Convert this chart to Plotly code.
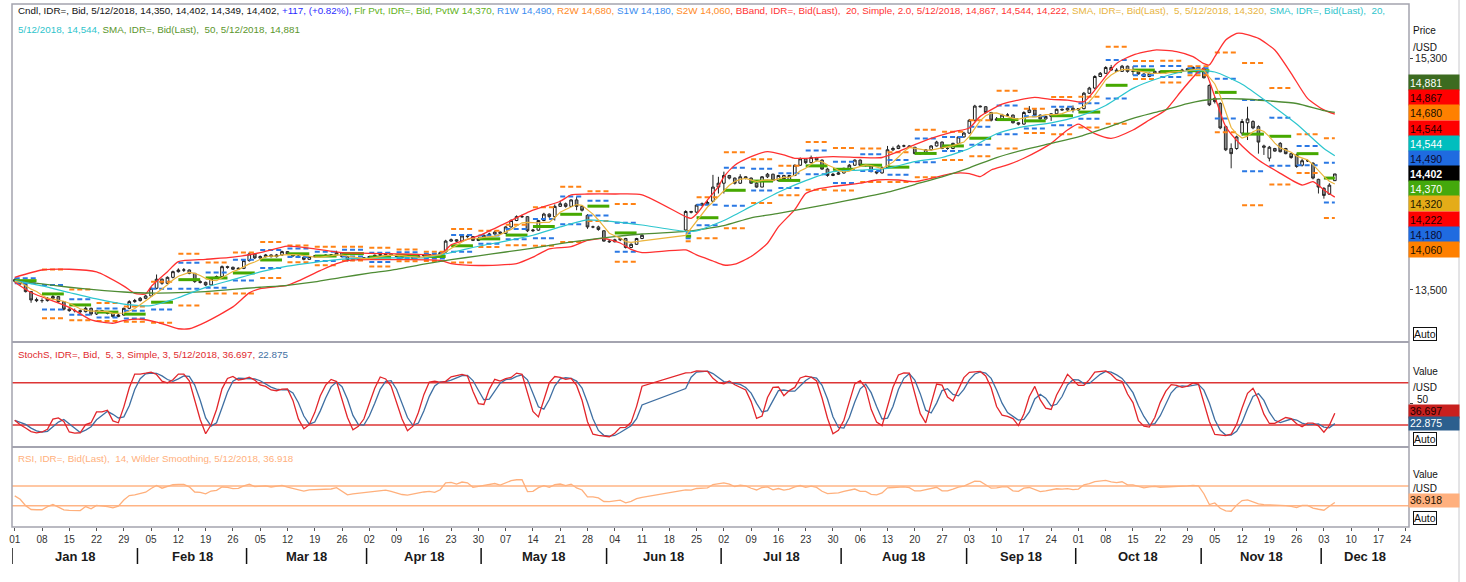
import numpy as np
import pandas as pd
import plotly.graph_objects as go

FONT = "Liberation Sans, Arial, sans-serif"

# ---------------- data ----------------
DAYS = pd.bdate_range("2018-01-01", "2018-12-05")  # weekday calendar of the chart

OPEN = [
    13580, 13568, 13545, 13487, 13425,
    13417, 13417, 13435, 13448, 13409,
    13350, 13339, 13339, 13331, 13357,
    13313, 13339, 13329, 13318, 13293,
    13305, 13357, 13409, 13417, 13435,
    13453, 13513, 13583, 13552, 13598,
    13642, 13655, 13655, 13629, 13565,
    13559, 13539, 13591, 13604, 13681,
    13676, 13661, 13668, 13728, 13780,
    13749, 13759, 13772, 13759, 13772,
    13798, 13780, 13764, 13754, 13738,
    13759, 13764, 13764, 13770, 13772,
    13790, 13759, 13728, 13738, 13745,
    13750, 13760, 13770, 13775, 13780,
    13772, 13760, 13750, 13745, 13755,
    13765, 13770, 13775, 13770, 13795,
    13880, 13890, 13880, 13920, 13915,
    13885, 13900, 13925, 13935, 13950,
    13940, 13990, 14040, 14070, 14070,
    13960, 13965, 14040, 14090, 14070,
    14150, 14170, 14150, 14200, 14150,
    14080, 13990, 13990, 13960, 13880,
    13875, 13890, 13900, 13830, 13855,
    13900, None, None, None, None,
    None, None, None, 13966, 14110,
    14105, 14160, 14170, 14190, 14300,
    14330, 14390, 14370, 14330, 14380,
    14370, 14330, 14300, 14380, 14400,
    14350, 14390, 14360, 14390, 14470,
    14520, 14490, 14530, 14510, 14440,
    14390, 14400, 14410, 14446, 14470,
    14510, 14470, 14470, 14420, 14410,
    14450, 14590, 14600, 14620, 14620,
    14610, 14560, 14560, 14590, 14620,
    14650, 14600, 14600, 14640, 14690,
    14720, 14820, 14930, 14925, 14880,
    14820, 14830, 14860, 14860, 14800,
    14790, 14880, 14900, 14860, 14830,
    14850, 14870, 14905, 14900, 14913,
    14900, 14910, 15030, 15070, 15160,
    15185, 15230, 15210, 15200, 15240,
    15200, 15200, 15180, 15160, 15185,
    15200, 15190, 15195, 15200, 15200,
    15210, 15220, 15230, 15225, 15090,
    14990, 14950, 14770, 14600, 14600,
    14720, 14800, 14810, 14770, 14620,
    14525, 14600, 14640, 14600, 14560,
    14550, 14470, 14505, 14485, 14360,
    14290, 14245, 14350,
]
HIGH = [
    13590, 13575, 13550, 13492, 13440,
    13435, 13445, 13460, 13452, 13412,
    13360, 13355, 13348, 13370, 13362,
    13345, 13345, 13335, 13322, 13315,
    13362, 13420, 13430, 13445, 13460,
    13520, 13620, 13590, 13605, 13650,
    13668, 13670, 13660, 13632, 13575,
    13565, 13598, 13612, 13690, 13688,
    13682, 13675, 13735, 13795, 13785,
    13768, 13780, 13778, 13780, 13805,
    13802, 13785, 13770, 13760, 13762,
    13770, 13772, 13776, 13778, 13805,
    13795, 13762, 13745, 13750, 13755,
    13765, 13775, 13782, 13790, 13784,
    13776, 13764, 13755, 13760, 13770,
    13775, 13780, 13780, 13800, 13890,
    13900, 13895, 13925, 13935, 13918,
    13910, 13932, 13945, 13960, 13955,
    13995, 14050, 14080, 14085, 14075,
    13975, 14045, 14100, 14095, 14165,
    14195, 14180, 14205, 14225, 14155,
    14090, 14000, 14000, 13965, 13890,
    13898, 13905, 13905, 13862, 13905,
    13935, None, None, None, None,
    None, None, None, 14120, 14115,
    14165, 14180, 14195, 14395, 14380,
    14420, 14395, 14375, 14400, 14385,
    14375, 14340, 14385, 14410, 14405,
    14395, 14395, 14395, 14475, 14530,
    14525, 14545, 14535, 14515, 14450,
    14410, 14420, 14450, 14480, 14515,
    14515, 14480, 14475, 14425, 14460,
    14620, 14615, 14630, 14630, 14625,
    14612, 14570, 14595, 14625, 14660,
    14655, 14610, 14645, 14695, 14730,
    14830, 14940, 14935, 14930, 14885,
    14845, 14870, 14875, 14865, 14805,
    14890, 14930, 14905, 14865, 14855,
    14875, 14910, 14912, 14920, 14935,
    14915, 15040, 15080, 15170, 15195,
    15240, 15250, 15225, 15250, 15245,
    15240, 15205, 15185, 15190, 15205,
    15205, 15200, 15210, 15205, 15220,
    15225, 15240, 15235, 15230, 15100,
    15000, 14960, 14780, 14640, 14700,
    14830, 14925, 14820, 14780, 14630,
    14620, 14605, 14650, 14605, 14565,
    14560, 14520, 14515, 14495, 14365,
    14300, 14330, 14402,
]
LOW = [
    13560, 13540, 13480, 13400, 13405,
    13400, 13410, 13425, 13400, 13340,
    13330, 13325, 13318, 13325, 13300,
    13305, 13320, 13310, 13285, 13288,
    13300, 13350, 13400, 13410, 13428,
    13448, 13505, 13540, 13545, 13590,
    13635, 13640, 13622, 13555, 13550,
    13530, 13535, 13585, 13600, 13665,
    13655, 13655, 13662, 13720, 13740,
    13740, 13752, 13752, 13752, 13765,
    13775, 13758, 13748, 13730, 13735,
    13752, 13755, 13758, 13764, 13768,
    13752, 13722, 13725, 13732, 13740,
    13745, 13755, 13765, 13770, 13768,
    13755, 13745, 13740, 13742, 13750,
    13760, 13765, 13762, 13765, 13790,
    13875, 13872, 13878, 13905, 13880,
    13880, 13895, 13918, 13930, 13935,
    13935, 13985, 14035, 14060, 13950,
    13950, 13960, 14035, 14060, 14040,
    14145, 14140, 14145, 14120, 14110,
    13975, 13980, 13960, 13875, 13865,
    13870, 13880, 13822, 13825, 13850,
    13895, None, None, None, None,
    None, None, None, 13960, 14095,
    14100, 14150, 14160, 14185, 14250,
    14250, 14360, 14320, 14325, 14360,
    14325, 14295, 14300, 14370, 14345,
    14345, 14355, 14355, 14385, 14465,
    14480, 14485, 14500, 14435, 14380,
    14385, 14395, 14405, 14440, 14465,
    14465, 14460, 14415, 14400, 14405,
    14445, 14580, 14595, 14610, 14605,
    14555, 14550, 14555, 14585, 14615,
    14595, 14590, 14595, 14635, 14685,
    14715, 14810, 14920, 14870, 14810,
    14815, 14825, 14850, 14795, 14780,
    14785, 14875, 14855, 14825, 14825,
    14815, 14865, 14895, 14895, 14880,
    14895, 14905, 15025, 15060, 15155,
    15180, 15205, 15195, 15195, 15190,
    15170, 15175, 15155, 15155, 15180,
    15185, 15185, 15190, 15195, 15195,
    15205, 15215, 15215, 15145, 14930,
    14950, 14750, 14580, 14446, 14590,
    14700, 14666, 14750, 14560, 14550,
    14500, 14575, 14570, 14555, 14520,
    14450, 14460, 14495, 14360, 14250,
    14210, 14240, 14349,
]
CLOSE = [
    13568, 13547, 13487, 13422, 13417,
    13417, 13435, 13448, 13409, 13350,
    13339, 13339, 13331, 13357, 13313,
    13339, 13329, 13318, 13293, 13305,
    13357, 13409, 13417, 13435, 13453,
    13513, 13583, 13552, 13598, 13642,
    13655, 13655, 13629, 13565, 13559,
    13539, 13591, 13604, 13681, 13676,
    13661, 13668, 13728, 13780, 13749,
    13759, 13772, 13759, 13772, 13798,
    13780, 13764, 13754, 13738, 13759,
    13764, 13764, 13770, 13772, 13790,
    13759, 13728, 13738, 13745, 13750,
    13760, 13770, 13775, 13780, 13772,
    13760, 13750, 13745, 13755, 13765,
    13770, 13775, 13770, 13790, 13880,
    13890, 13880, 13920, 13915, 13885,
    13900, 13925, 13935, 13950, 13940,
    13990, 14040, 14070, 14070, 13960,
    13965, 14040, 14090, 14070, 14150,
    14170, 14150, 14200, 14150, 14120,
    13990, 13990, 13970, 13880, 13875,
    13890, 13900, 13830, 13855, 13900,
    13925, None, None, None, None,
    None, None, None, 14110, 14105,
    14160, 14170, 14180, 14300, 14330,
    14390, 14370, 14330, 14380, 14370,
    14330, 14300, 14380, 14400, 14350,
    14390, 14360, 14390, 14470, 14520,
    14490, 14530, 14510, 14440, 14390,
    14400, 14410, 14446, 14470, 14510,
    14470, 14470, 14420, 14410, 14450,
    14590, 14600, 14620, 14620, 14610,
    14560, 14560, 14590, 14620, 14650,
    14600, 14600, 14640, 14690, 14720,
    14820, 14930, 14925, 14880, 14820,
    14830, 14860, 14860, 14800, 14790,
    14880, 14900, 14860, 14830, 14850,
    14870, 14905, 14900, 14913, 14900,
    14910, 15030, 15070, 15160, 15185,
    15230, 15210, 15200, 15240, 15200,
    15200, 15180, 15160, 15185, 15200,
    15190, 15195, 15200, 15200, 15210,
    15220, 15230, 15225, 15150, 14940,
    14965, 14760, 14590, 14560, 14690,
    14810, 14830, 14760, 14650, 14610,
    14610, 14580, 14575, 14560, 14530,
    14460, 14505, 14505, 14370, 14300,
    14235, 14315, 14402,
]

# weekly floor pivot of the first week (P, R1, S1)
PIVOT_WEEK0 = [13572, 13591, 13552]
# Wilder average gain / loss carried in from before January (sets the RSI start level)
RSI_PRIOR_AVG = [5.0, 5.0]

# SMA 20 / SMA 50 read at weekly points
SMA_DATES = [
    "2018-01-01", "2018-01-08", "2018-01-15", "2018-01-22", "2018-01-29",
    "2018-02-05", "2018-02-12", "2018-02-19", "2018-02-26", "2018-03-05",
    "2018-03-12", "2018-03-19", "2018-03-26", "2018-04-02", "2018-04-09",
    "2018-04-16", "2018-04-23", "2018-04-30", "2018-05-07", "2018-05-14",
    "2018-05-21", "2018-05-28", "2018-06-04", "2018-06-11", "2018-06-21",
    "2018-06-25", "2018-07-02", "2018-07-09", "2018-07-16", "2018-07-23",
    "2018-07-30", "2018-08-06", "2018-08-13", "2018-08-20", "2018-08-27",
    "2018-09-03", "2018-09-10", "2018-09-17", "2018-09-24", "2018-10-01",
    "2018-10-08", "2018-10-15", "2018-10-22", "2018-10-29", "2018-11-05",
    "2018-11-12", "2018-11-19", "2018-11-26", "2018-12-03", "2018-12-05",
]
SMA20 = [
    13572, 13531, 13480, 13430, 13390, 13378, 13440, 13520, 13580, 13640,
    13685, 13715, 13740, 13748, 13750, 13750, 13790, 13840, 13880, 13925,
    13990, 14045, 14030, 14005, 13955, 13959, 14040, 14150, 14260, 14350,
    14420, 14432, 14446, 14498, 14530, 14600, 14715, 14770, 14800, 14850,
    14935, 15068, 15150, 15205, 15195, 15100, 14950, 14790, 14600, 14544,
]
SMA50 = [
    13572, 13547, 13521, 13500, 13484, 13476, 13479, 13487, 13505, 13521,
    13536, 13562, 13598, 13630, 13660, 13700, 13735, 13765, 13795, 13825,
    13860, 13890, 13915, 13935, 13955, 13966, 14000, 14060, 14095, 14135,
    14174, 14215, 14260, 14320, 14380, 14450, 14530, 14590, 14640, 14690,
    14760, 14835, 14890, 14950, 14985, 14985, 14970, 14950, 14895, 14881,
]

# Bollinger band (20, 2.0) envelopes
BBU_DATES = [
    "2018-01-01", "2018-01-08", "2018-01-15", "2018-01-22", "2018-01-29", "2018-01-31",
    "2018-02-02", "2018-02-05", "2018-02-08", "2018-02-12", "2018-02-19", "2018-02-26",
    "2018-03-05", "2018-03-12", "2018-03-19", "2018-03-26", "2018-04-02", "2018-04-09",
    "2018-04-16", "2018-04-19", "2018-04-23", "2018-04-30", "2018-05-07", "2018-05-14",
    "2018-05-21", "2018-05-23", "2018-05-28", "2018-06-04", "2018-06-11", "2018-06-21",
    "2018-06-22", "2018-06-25", "2018-06-27", "2018-06-29", "2018-07-02", "2018-07-04",
    "2018-07-09", "2018-07-12", "2018-07-17", "2018-07-19", "2018-07-23", "2018-07-30",
    "2018-08-06", "2018-08-10", "2018-08-15", "2018-08-20", "2018-08-23", "2018-08-29",
    "2018-09-03", "2018-09-05", "2018-09-11", "2018-09-14", "2018-09-19", "2018-09-24",
    "2018-09-27", "2018-10-02", "2018-10-05", "2018-10-10", "2018-10-15", "2018-10-19",
    "2018-10-25", "2018-10-30", "2018-11-01", "2018-11-02", "2018-11-05", "2018-11-07",
    "2018-11-09", "2018-11-12", "2018-11-15", "2018-11-20", "2018-11-23", "2018-11-28",
    "2018-12-03", "2018-12-05",
]
BBU = [
    13598, 13655, 13661, 13640, 13530, 13474,
    13469, 13526, 13642, 13720, 13738, 13755,
    13790, 13840, 13820, 13790, 13785, 13780,
    13775, 13772, 13850, 13920, 14020, 14120,
    14190, 14239, 14246, 14246, 14240, 14070,
    14057, 14090, 14200, 14304, 14380, 14470,
    14537, 14576, 14550, 14524, 14524, 14537,
    14530, 14530, 14576, 14630, 14679, 14730,
    14760, 14850, 14945, 14977, 14998, 14982,
    14977, 14964, 15107, 15262, 15327, 15366,
    15353, 15314, 15260, 15250, 15314, 15444,
    15496, 15496, 15457, 15366, 15185, 14990,
    14900, 14867,
]
BBL_DATES = [
    "2018-01-01", "2018-01-04", "2018-01-15", "2018-01-19", "2018-01-25", "2018-01-29",
    "2018-02-01", "2018-02-06", "2018-02-12", "2018-02-14", "2018-02-19", "2018-02-26",
    "2018-03-01", "2018-03-05", "2018-03-08", "2018-03-12", "2018-03-14", "2018-03-20",
    "2018-03-23", "2018-03-28", "2018-04-05", "2018-04-19", "2018-04-23", "2018-04-30",
    "2018-05-09", "2018-05-14", "2018-05-17", "2018-05-23", "2018-05-28", "2018-05-31",
    "2018-06-05", "2018-06-07", "2018-06-11", "2018-06-21", "2018-06-25", "2018-06-28",
    "2018-07-02", "2018-07-04", "2018-07-09", "2018-07-12", "2018-07-16", "2018-07-19",
    "2018-07-23", "2018-07-25", "2018-07-30", "2018-08-06", "2018-08-09", "2018-08-15",
    "2018-08-20", "2018-08-23", "2018-08-29", "2018-09-03", "2018-09-05", "2018-09-07",
    "2018-09-12", "2018-09-17", "2018-09-20", "2018-09-24", "2018-09-27", "2018-10-01",
    "2018-10-04", "2018-10-09", "2018-10-15", "2018-10-18", "2018-10-23", "2018-10-26",
    "2018-10-31", "2018-11-01", "2018-11-05", "2018-11-07", "2018-11-12", "2018-11-15",
    "2018-11-21", "2018-11-27", "2018-11-29", "2018-12-03", "2018-12-05",
]
BBL = [
    13560, 13480, 13365, 13267, 13241, 13262,
    13272, 13250, 13198, 13198, 13250, 13368,
    13477, 13510, 13525, 13535, 13570, 13650,
    13705, 13733, 13735, 13730, 13705, 13690,
    13705, 13755, 13820, 13837, 13885, 13900,
    13865, 13815, 13790, 13811, 13772, 13725,
    13694, 13700, 13760, 13863, 13990, 14125,
    14250, 14283, 14305, 14330, 14355, 14355,
    14342, 14368, 14407, 14405, 14381, 14433,
    14472, 14524, 14589, 14640, 14744, 14790,
    14715, 14679, 14744, 14822, 14900, 15055,
    15198, 15220, 15003, 14770, 14620, 14511,
    14407, 14316, 14342, 14278, 14222,
]

TICK_LABELS = [
    "01", "08", "15", "22", "29", "05", "12", "19", "26", "05", "12", "19", "26",
    "02", "09", "16", "23", "30", "07", "14", "21", "28", "04", "11", "18", "25",
    "02", "09", "16", "23", "30", "06", "13", "20", "27", "03", "10", "17", "24",
    "01", "08", "15", "22", "29", "05", "12", "19", "26", "03", "10", "17", "24",
]
MONTHS = ["Jan 18", "Feb 18", "Mar 18", "Apr 18", "May 18", "Jun 18",
          "Jul 18", "Aug 18", "Sep 18", "Oct 18", "Nov 18", "Dec 18"]
MONTH_FIRST_DAYS = ["2018-01-01", "2018-02-01", "2018-03-01", "2018-04-02", "2018-05-01",
                    "2018-06-01", "2018-07-02", "2018-08-01", "2018-09-03", "2018-10-01",
                    "2018-11-01", "2018-12-03"]

PRICE_TAGS = ["14,881", "14,867", "14,680", "14,544", "14,544", "14,490",
              "14,402", "14,370", "14,320", "14,222", "14,180", "14,060"]
PRICE_TAG_BG = ["#3C6B20", "#FF0000", "#FF8000", "#FF0000", "#00BEBE", "#1F6BE0",
                "#000000", "#44A80C", "#E4AC18", "#FF0000", "#1F6BE0", "#FF8000"]
PRICE_TAG_FG = ["#FFFFFF", "#200000", "#201000", "#200000", "#FFFFFF", "#0A0A30",
                "#FFFFFF", "#FFFFFF", "#201800", "#200000", "#0A0A30", "#201000"]
STOCH_TAGS = ["36.697", "22.875"]
RSI_TAG = "36.918"

# ---------------- calculations ----------------
day_index = {d.strftime("%Y-%m-%d"): k for k, d in enumerate(DAYS)}
df = pd.DataFrame({"o": OPEN, "h": HIGH, "l": LOW, "c": CLOSE}, dtype=float)
df["x"] = np.arange(len(df))
d = df.dropna().copy()

d["sma5"] = d["c"].rolling(5, min_periods=1).mean()
ll = d["l"].rolling(5, min_periods=1).min()
hh = d["h"].rolling(5, min_periods=1).max()
fast_k = 100 * (d["c"] - ll) / (hh - ll)
d["k"] = fast_k.rolling(3, min_periods=1).mean()
d["dline"] = d["k"].rolling(3, min_periods=1).mean()

# RSI 14, Wilder smoothing
ag, al = RSI_PRIOR_AVG
rsi_vals = []
prev_c = None
for c in d["c"]:
    if prev_c is not None:
        ch = c - prev_c
        ag = (ag * 13 + max(ch, 0)) / 14
        al = (al * 13 + max(-ch, 0)) / 14
    rsi_vals.append(100 - 100 / (1 + ag / al) if al > 0 else 100)
    prev_c = c
d["rsi"] = rsi_vals

# weekly floor pivots from previous week's H/L/C
d["w"] = d["x"] // 5
wk = d.groupby("w").agg(h=("h", "max"), l=("l", "min"), c=("c", "last"),
                        x0=("x", "min"), x1=("x", "max"))
piv = {k: ([], []) for k in ["P", "R1", "S1", "R2", "S2"]}
prev = None
for w, row in wk.iterrows():
    if prev is None:
        lv = {"P": PIVOT_WEEK0[0], "R1": PIVOT_WEEK0[1], "S1": PIVOT_WEEK0[2]}
    else:
        P = (prev["h"] + prev["l"] + prev["c"]) / 3
        lv = {"P": P, "R1": 2 * P - prev["l"], "S1": 2 * P - prev["h"],
              "R2": P + (prev["h"] - prev["l"]), "S2": P - (prev["h"] - prev["l"])}
    for k, v in lv.items():
        piv[k][0].extend([row["x0"], row["x1"], None])
        piv[k][1].extend([v, v, None])
    prev = row


def xs(dates):
    return [day_index[s] for s in dates]


# ---------------- figure ----------------
fig = go.Figure()

for k, col, wd, dash in [("R2", "#FF8214", 2, "5px,3px"), ("S2", "#FF8214", 2, "5px,3px"),
                         ("R1", "#2A78E4", 2, "5px,3px"), ("S1", "#2A78E4", 2, "5px,3px"),
                         ("P", "#46A800", 3, "solid")]:
    fig.add_trace(go.Scatter(x=piv[k][0], y=piv[k][1], mode="lines",
                             line=dict(color=col, width=wd, dash=dash),
                             hoverinfo="skip", xaxis="x", yaxis="y"))

fig.add_trace(go.Scatter(x=xs(BBU_DATES), y=BBU, mode="lines",
                         line=dict(color="#FF3030", width=1.3, shape="spline", smoothing=0.6),
                         hoverinfo="skip", yaxis="y"))
fig.add_trace(go.Scatter(x=xs(BBL_DATES), y=BBL, mode="lines",
                         line=dict(color="#FF3030", width=1.3, shape="spline", smoothing=0.6),
                         hoverinfo="skip", yaxis="y"))
fig.add_trace(go.Scatter(x=xs(SMA_DATES), y=SMA50, mode="lines",
                         line=dict(color="#4E8C34", width=1.3, shape="spline", smoothing=0.6),
                         hoverinfo="skip", yaxis="y"))
fig.add_trace(go.Scatter(x=xs(SMA_DATES), y=SMA20, mode="lines",
                         line=dict(color="#2CC6CE", width=1.2, shape="spline", smoothing=0.6),
                         hoverinfo="skip", yaxis="y"))
fig.add_trace(go.Scatter(x=d["x"], y=d["sma5"], mode="lines",
                         line=dict(color="#EBB43C", width=1.2),
                         hoverinfo="skip", yaxis="y"))
fig.add_trace(go.Candlestick(x=d["x"], open=d["o"], high=d["h"], low=d["l"], close=d["c"],
                             increasing=dict(line=dict(color="#1E1E1E", width=1), fillcolor="#FFFFFF"),
                             decreasing=dict(line=dict(color="#2A2A2A", width=1), fillcolor="#8C8C8C"),
                             whiskerwidth=0, hoverinfo="skip", xaxis="x", yaxis="y"))

fig.add_trace(go.Scatter(x=d["x"], y=d["dline"], mode="lines",
                         line=dict(color="#3F6FA2", width=1.3), hoverinfo="skip", yaxis="y2"))
fig.add_trace(go.Scatter(x=d["x"], y=d["k"], mode="lines",
                         line=dict(color="#E2262B", width=1.3), hoverinfo="skip", yaxis="y2"))
fig.add_trace(go.Scatter(x=d["x"], y=d["rsi"], mode="lines",
                         line=dict(color="#FFB07C", width=1.3), hoverinfo="skip", yaxis="y3"))

W_PLOT = 1466 - 12 - 57
H_PLOT = 582 - 4 - 55


def px_x(px):
    return (px - 12) / W_PLOT


def px_y(py):
    return (527 - py) / H_PLOT


shapes = []
# indicator reference levels
for yv, ax, col in [(80, "y2", "#DD3535"), (20, "y2", "#DD3535"),
                    (70, "y3", "#FFB485"), (30, "y3", "#FFB485")]:
    shapes.append(dict(type="line", xref="paper", yref=ax, x0=0, x1=1, y0=yv, y1=yv,
                       line=dict(color=col, width=1.5), layer="below"))
# frame and pane separators
shapes.append(dict(type="rect", xref="paper", yref="paper", x0=0, x1=1, y0=0, y1=1,
                   line=dict(color="#A4A4AE", width=1.5)))
for py in (342, 447):
    shapes.append(dict(type="line", xref="paper", yref="paper", x0=0, x1=1,
                       y0=px_y(py), y1=px_y(py), line=dict(color="#A4A4B0", width=2)))
shapes.append(dict(type="line", xref="paper", yref="paper", x0=px_x(1459), x1=px_x(1459),
                   y0=px_y(582), y1=px_y(0), line=dict(color="#C8C8CC", width=1)))
# month separators
month_pos = [day_index[s] - 0.5 for s in MONTH_FIRST_DAYS]
for xm in month_pos:
    shapes.append(dict(type="line", xref="x", yref="paper", x0=xm, x1=xm,
                       y0=px_y(548), y1=px_y(564), line=dict(color="#111111", width=1.5)))

HS = 9.8  # header font size
ann = []
hdr1 = ('<span style="color:#111111">Cndl, IDR=, Bid, 5/12/2018, 14,350, 14,402, 14,349, 14,402, </span>'
        '<span style="color:#2B2BFF">+117, (+0.82%), </span>'
        '<span style="color:#62B21A">Flr Pvt, IDR=, Bid, PvtW 14,370, </span>'
        '<span style="color:#3A8CF0">R1W 14,490, </span>'
        '<span style="color:#FF8A26">R2W 14,680, </span>'
        '<span style="color:#3A8CF0">S1W 14,180, </span>'
        '<span style="color:#FF8A26">S2W 14,060</span>'
        '<span style="color:#FF3434">, BBand, IDR=, Bid(Last),\u00a0 20, Simple, 2.0, 5/12/2018, 14,867, 14,544, 14,222, </span>'
        '<span style="color:#E8B440">SMA, IDR=, Bid(Last),\u00a0 5, 5/12/2018, 14,320, </span>'
        '<span style="color:#2EC4CC">SMA, IDR=, Bid(Last),\u00a0 20,</span>')
hdr2 = ('<span style="color:#2EC4CC">5/12/2018, 14,544, </span>'
        '<span style="color:#5A962C">SMA, IDR=, Bid(Last),\u00a0 50, 5/12/2018, 14,881</span>')
hdr3 = ('<span style="color:#E02A2E">StochS, IDR=, Bid,\u00a0 5, 3, Simple, 3, 5/12/2018, 36.697, </span>'
        '<span style="color:#3F6FA2">22.875</span>')
hdr4 = '<span style="color:#FFB07C">RSI, IDR=, Bid(Last),\u00a0 14, Wilder Smoothing, 5/12/2018, 36.918</span>'
for txt, py in [(hdr1, 11), (hdr2, 29), (hdr3, 354), (hdr4, 458)]:
    ann.append(dict(text=txt, xref="paper", yref="paper", x=px_x(16), y=px_y(py),
                    xanchor="left", yanchor="middle", showarrow=False,
                    font=dict(family=FONT, size=HS)))

for txt, py in [("Price", 30), ("/USD", 47), ("Value", 371), ("/USD", 388),
                ("Value", 474), ("/USD", 488.5), ("50", 399.5)]:
    ann.append(dict(text=txt, xref="paper", yref="paper",
                    x=px_x(1415 if txt == "50" else 1411), y=px_y(py),
                    xanchor="left", yanchor="middle", showarrow=False,
                    font=dict(family=FONT, size=10, color="#111111")))

# value tags on the price scale
for k, (t, bg, fg) in enumerate(zip(PRICE_TAGS, PRICE_TAG_BG, PRICE_TAG_FG)):
    cy = 75 + 15.17 * (k + 0.5)
    ann.append(dict(text=("<b>%s</b>" % t) if bg == "#000000" else t,
                    xref="paper", yref="paper", x=px_x(1407.5), y=px_y(cy),
                    xanchor="left", yanchor="middle", showarrow=False, align="left",
                    width=48, height=13.2, borderpad=1, bgcolor=bg,
                    font=dict(family=FONT, size=10.5, color=fg)))
for t, bg, fg, cy in [(STOCH_TAGS[0], "#C8201E", "#200000", 411.2),
                      (STOCH_TAGS[1], "#2C5F8E", "#FFFFFF", 423.6),
                      (RSI_TAG, "#FFB07E", "#201000", 500)]:
    ann.append(dict(text=t, xref="paper", yref="paper", x=px_x(1407.5), y=px_y(cy),
                    xanchor="left", yanchor="middle", showarrow=False, align="left",
                    width=48, height=10.6, borderpad=1, bgcolor=bg,
                    font=dict(family=FONT, size=10.5, color=fg)))
for cy in (334, 439.5, 518):
    ann.append(dict(text="Auto", xref="paper", yref="paper", x=px_x(1413), y=px_y(cy),
                    xanchor="left", yanchor="middle", showarrow=False,
                    bordercolor="#111111", borderwidth=1, borderpad=0, bgcolor="#FFFFFF",
                    font=dict(family=FONT, size=10.5, color="#111111")))

# month labels
ends = month_pos[1:] + [255.6]
for name, a, b in zip(MONTHS, month_pos, ends):
    ann.append(dict(text="<b>%s</b>" % name, xref="x", yref="paper", x=(a + b) / 2,
                    y=px_y(556), xanchor="center", yanchor="middle", showarrow=False,
                    font=dict(family=FONT, size=13, color="#1A1A1A")))

fig.update_layout(
    width=1466, height=582, autosize=False,
    margin=dict(l=12, r=57, t=4, b=55),
    paper_bgcolor="white", plot_bgcolor="white", showlegend=False,
    font=dict(family=FONT, size=10, color="#222222"),
    xaxis=dict(domain=[0, 1], anchor="y3", range=[-0.5, 255.6],
               tickvals=list(range(0, 256, 5)), ticktext=TICK_LABELS,
               ticks="outside", ticklen=3, tickcolor="#555555",
               tickfont=dict(family=FONT, size=10, color="#333333"),
               showgrid=False, zeroline=False, showline=False,
               rangeslider=dict(visible=False)),
    yaxis=dict(domain=[px_y(342), 1], anchor="x", side="right", range=[13095, 15724],
               tickvals=[13500, 15300], tickformat=",d", ticks="outside", ticklen=3,
               tickcolor="#444444", tickfont=dict(family=FONT, size=10.5, color="#222222"),
               showgrid=False, zeroline=False),
    yaxis2=dict(domain=[px_y(447), px_y(342)], anchor="x", side="right", range=[-11.2, 137.7],
                tickvals=[50], ticks="outside", ticklen=3, tickcolor="#444444",
                showticklabels=False, showgrid=False, zeroline=False),
    yaxis3=dict(domain=[0, px_y(447)], anchor="x", side="right", range=[-13.2, 149.2],
                showticklabels=False, ticks="", showgrid=False, zeroline=False),
    shapes=shapes, annotations=ann,
)

fig.write_html("out.html", config={"displayModeBar": False},
               post_script="document.body.style.margin='0px';")
